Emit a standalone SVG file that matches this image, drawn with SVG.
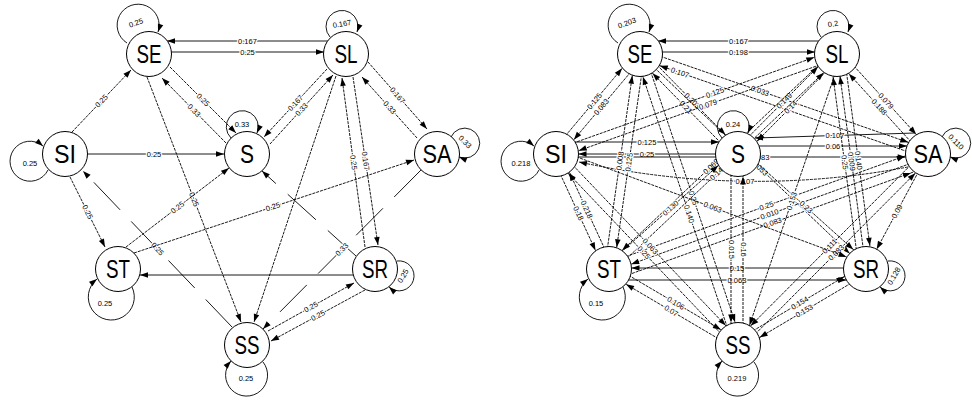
<svg xmlns="http://www.w3.org/2000/svg" width="972" height="401" viewBox="0 0 972 401">
<defs>
<style>
.e{fill:none;stroke:#000;stroke-width:0.9}
.d{stroke-dasharray:3 1}
.ld{stroke-dasharray:38 16}
.a{marker-end:url(#ah)}
.c{marker-end:url(#ahc)}
.lb{font-family:"Liberation Sans",Arial,sans-serif;font-size:7.5px;text-anchor:middle;dominant-baseline:central;fill:#000;stroke:#fff;stroke-width:2.4px;paint-order:stroke;stroke-linejoin:round}
.nd circle{fill:#fff;stroke:#000;stroke-width:1}
.nd text{font-family:"Liberation Sans",Arial,sans-serif;font-size:25px;text-anchor:middle;fill:#000}
</style>
<marker id="ah" markerUnits="userSpaceOnUse" orient="auto" viewBox="-9 -4 10 8" markerWidth="10" markerHeight="8" refX="0" refY="0" overflow="visible"><path d="M0,0 L-8,-2.8 L-8,2.8 z" fill="#000"/></marker>
<marker id="ahc" markerUnits="userSpaceOnUse" orient="auto" viewBox="-32 -4 33 8" markerWidth="33" markerHeight="8" refX="0" refY="0" overflow="visible"><path d="M-22.5,0 L-30.5,-2.8 L-30.5,2.8 z" fill="#000"/></marker>
</defs>
<rect width="972" height="401" fill="#fff"/>
<g id="connectors">
<g id="edges-left">
<path class="e a" d="M328,41 L167,41"/><text class="lb" x="247.5" y="41">0.167</text>
<path class="e a" d="M171,52 L324,52"/><text class="lb" x="247.5" y="52">0.25</text>
<path class="e d a" d="M72,132 L131,70"/><text class="lb" x="101.5" y="101" transform="rotate(-46.4 101.5 101)">0.25</text>
<path class="e d a" d="M170,67 L236,133"/><text class="lb" x="203" y="100" transform="rotate(45 203 100)">0.25</text>
<path class="e d a" d="M226,143 L162,78"/><text class="lb" x="194" y="110.5" transform="rotate(45.4 194 110.5)">0.33</text>
<path class="e a" d="M88,154 L224,154"/><text class="lb" x="154" y="154">0.25</text>
<path class="e d a" d="M147,77 L241,322"/><text class="lb" x="194" y="199.5" transform="rotate(69 194 199.5)">0.25</text>
<path class="e d a" d="M70,177 L105,247"/><text class="lb" x="87.5" y="212" transform="rotate(63.4 87.5 212)">0.25</text>
<path class="e ld a" d="M232,327 L83,171"/><text class="lb" x="157.5" y="249" transform="rotate(46.3 157.5 249)">0.25</text>
<path class="e d a" d="M126,247 L229,168"/><text class="lb" x="177.5" y="207.5" transform="rotate(-37.5 177.5 207.5)">0.25</text>
<path class="e d a" d="M134,253 L414,160"/><text class="lb" x="273" y="206.8" transform="rotate(-18.4 273 206.8)">0.25</text>
<path class="e a" d="M353,275 L140,275"/>
<path class="e ld a" d="M356,256 L262,171"/>
<path class="e d a" d="M327,69 L264,137"/><text class="lb" x="295.5" y="103" transform="rotate(-47.2 295.5 103)">0.167</text>
<path class="e d a" d="M270,144 L333,75"/><text class="lb" x="301.5" y="109.5" transform="rotate(-47.6 301.5 109.5)">0.33</text>
<path class="e d a" d="M368,62 L427,129"/><text class="lb" x="397.5" y="95.5" transform="rotate(48.6 397.5 95.5)">0.167</text>
<path class="e d a" d="M417,138 L362,77"/><text class="lb" x="389.5" y="107.5" transform="rotate(47.9 389.5 107.5)">0.33</text>
<path class="e d a" d="M365,247 L342,78"/><text class="lb" x="353.5" y="162.5" transform="rotate(82.2 353.5 162.5)">0.25</text>
<path class="e d a" d="M353,77 L378,245"/><text class="lb" x="365.5" y="161" transform="rotate(81.5 365.5 161)">0.167</text>
<path class="e d a" d="M336,76 L254,322"/>
<path class="e ld a" d="M421,170 L263,329"/><text class="lb" x="342" y="249.5" transform="rotate(-45.2 342 249.5)">0.33</text>
<path class="e d a" d="M268,331 L354,283"/><text class="lb" x="311" y="307" transform="rotate(-29.2 311 307)">0.25</text>
<path class="e d a" d="M365,290 L271,341"/><text class="lb" x="318" y="315.5" transform="rotate(-28.5 318 315.5)">0.25</text>
<path class="e a" d="M127,43 A21,21 0 1 1 158,32"/><text class="lb" x="136" y="23" transform="rotate(-20 136 23)">0.25</text>
<path class="e a" d="M330,37 A16,16 0 1 1 357,32"/><text class="lb" x="342" y="24" transform="rotate(-10 342 24)">0.167</text>
<path class="e a" d="M48,170 A20,20 0 1 1 43,146"/><text class="lb" x="30" y="163">0.25</text>
<path class="e a" d="M231,138 A16,16 0 1 1 257,133"/><text class="lb" x="242" y="124">0.33</text>
<path class="e a" d="M451,137 A15,15 0 1 1 459,157"/><text class="lb" x="465" y="142" transform="rotate(45 465 142)">0.33</text>
<path class="e a" d="M132,287 A23,23 0 1 1 97,279"/><text class="lb" x="105" y="303">0.25</text>
<path class="e a" d="M397,261 A15,15 0 1 1 389,287"/><text class="lb" x="403" y="276" transform="rotate(-60 403 276)">0.25</text>
<path class="e a" d="M263,362 A21,21 0 1 1 231,361"/><text class="lb" x="246" y="378">0.25</text>
</g>
<g id="edges-right">
<path class="e a" d="M819,41 L658,41"/><text class="lb" x="738.5" y="41">0.167</text>
<path class="e a" d="M662,52 L815,52"/><text class="lb" x="738.5" y="52">0.198</text>
<path class="e a" d="M575,142 L719,142"/><text class="lb" x="647" y="142">0.125</text>
<path class="e a" d="M715.5,154 L578.5,154"/><text class="lb" x="647" y="154">0.25</text>
<path class="e a" d="M578.3,157 L905.7,157"/><text class="lb" x="760" y="157">0.083</text>
<path class="e a" d="M915,133 L755,138"/><text class="lb" x="835" y="135.5">0.107</text>
<path class="e a" d="M759,146 L907,146"/><text class="lb" x="833" y="146">0.06</text>
<path class="e a" d="M843.5,268 L631.5,268"/><text class="lb" x="737" y="268">0.15</text>
<path class="e a" d="M628.6,280 L846.4,280"/><text class="lb" x="737" y="280">0.063</text>
<path class="e d a" d="M908,167 Q745,198 579,162"/><text class="lb" x="745" y="181">0.107</text>
<path class="e d c" d="M552.6,151.1 L636.6,51.1"/><text class="lb" x="594.6" y="101.1" transform="rotate(-50 594.6 101.1)">0.125</text>
<path class="e d c" d="M643.4,56.9 L559.4,156.9"/><text class="lb" x="601.4" y="106.9" transform="rotate(-50 601.4 106.9)">0.083</text>
<path class="e d c" d="M734.8,157.2 L636.8,57.2"/><text class="lb" x="685.8" y="107.2" transform="rotate(45.6 685.8 107.2)">0.21</text>
<path class="e d c" d="M643.2,50.9 L741.2,150.9"/><text class="lb" x="692.2" y="100.9" transform="rotate(45.6 692.2 100.9)">0.203</text>
<path class="e d c" d="M641.5,49.75 L929.5,149.75"/><text class="lb" x="760" y="91" transform="rotate(19.1 760 91)">0.033</text>
<path class="e d c" d="M926.5,158.25 L638.5,58.25"/><text class="lb" x="680" y="72.6" transform="rotate(19.1 680 72.6)">0.107</text>
<path class="e d c" d="M644.5,54.6 L613.5,269.6"/><text class="lb" x="629" y="162.1" transform="rotate(-81.8 629 162.1)">0.125</text>
<path class="e d c" d="M604.5,268.4 L635.5,53.4"/><text class="lb" x="620" y="160.9" transform="rotate(-81.8 620 160.9)">0.008</text>
<path class="e d c" d="M644.3,52.6 L742.3,343.6"/><text class="lb" x="693.3" y="198.1" transform="rotate(71.4 693.3 198.1)">0.25</text>
<path class="e d c" d="M733.7,346.4 L635.7,55.4"/><text class="lb" x="689" y="214" transform="rotate(71.4 689 214)">0.140</text>
<path class="e d c" d="M640,54 L866,269"/><text class="lb" x="760" y="168" transform="rotate(43.6 760 168)">0.053</text>
<path class="e d c" d="M554.5,149.8 L835.5,49.8"/><text class="lb" x="715" y="92.7" transform="rotate(-19.6 715 92.7)">0.125</text>
<path class="e d c" d="M838.5,58.2 L557.5,158.2"/><text class="lb" x="708" y="104.6" transform="rotate(-19.6 708 104.6)">0.079</text>
<path class="e d c" d="M734.8,150.8 L833.8,50.8"/><text class="lb" x="784.3" y="100.8" transform="rotate(-45.3 784.3 100.8)">0.149</text>
<path class="e d c" d="M840.2,57.2 L741.2,157.2"/><text class="lb" x="790.7" y="107.2" transform="rotate(-45.3 790.7 107.2)">0.14</text>
<path class="e d c" d="M840.3,51 L931.3,151"/><text class="lb" x="885.8" y="101" transform="rotate(47.7 885.8 101)">0.079</text>
<path class="e d c" d="M924.7,157 L833.7,57"/><text class="lb" x="879.2" y="107" transform="rotate(47.7 879.2 107)">0.188</text>
<path class="e d c" d="M833.9,50.7 L605.9,265.7"/><text class="lb" x="711" y="166.6" transform="rotate(-43.3 711 166.6)">0.069</text>
<path class="e d c" d="M612.1,272.3 L840.1,57.3"/><text class="lb" x="718" y="172.4" transform="rotate(-43.3 718 172.4)">0.145</text>
<path class="e d c" d="M859.1,269.9 L830.1,54.9"/><text class="lb" x="844.6" y="162.4" transform="rotate(82.3 844.6 162.4)">0.25</text>
<path class="e d c" d="M866,269 L837,54"/><text class="lb" x="851.5" y="161.5" transform="rotate(82.3 851.5 161.5)">0.009</text>
<path class="e d c" d="M843.9,53.1 L872.9,268.1"/><text class="lb" x="858.4" y="160.6" transform="rotate(82.3 858.4 160.6)">0.140</text>
<path class="e d c" d="M551.9,155.9 L604.9,270.9"/><text class="lb" x="578.4" y="213.4" transform="rotate(65.3 578.4 213.4)">0.18</text>
<path class="e d c" d="M613.1,267.1 L560.1,152.1"/><text class="lb" x="586.6" y="209.6" transform="rotate(65.3 586.6 209.6)">0.218</text>
<path class="e d c" d="M606,265.6 L735,150.6"/><text class="lb" x="670.5" y="208.1" transform="rotate(-41.7 670.5 208.1)">0.130</text>
<path class="e d c" d="M607,263.4 L926,148.4"/><text class="lb" x="766.5" y="205.9" transform="rotate(-19.8 766.5 205.9)">0.25</text>
<path class="e d c" d="M929,156.8 L610,271.8"/><text class="lb" x="769.5" y="214.3" transform="rotate(-19.8 769.5 214.3)">0.010</text>
<path class="e d c" d="M613.1,280.3 L932.1,165.3"/><text class="lb" x="772.6" y="222.8" transform="rotate(-19.8 772.6 222.8)">0.083</text>
<path class="e d c" d="M611.3,265.1 L740.3,341.1"/><text class="lb" x="675.8" y="303.1" transform="rotate(30.5 675.8 303.1)">0.106</text>
<path class="e d c" d="M735.7,348.9 L606.7,272.9"/><text class="lb" x="671.2" y="310.9" transform="rotate(30.5 671.2 310.9)">0.07</text>
<path class="e d c" d="M735.7,341.1 L863.7,265.1"/><text class="lb" x="799.7" y="303.1" transform="rotate(-30.7 799.7 303.1)">0.154</text>
<path class="e d c" d="M868.3,272.9 L740.3,348.9"/><text class="lb" x="804.3" y="310.9" transform="rotate(-30.7 804.3 310.9)">0.153</text>
<path class="e d c" d="M928,154 L866,269"/><text class="lb" x="897" y="211.5" transform="rotate(-61.7 897 211.5)">0.09</text>
<path class="e d c" d="M924.8,150.8 L734.8,341.8"/><text class="lb" x="829.8" y="246.3" transform="rotate(-45.2 829.8 246.3)">0.111</text>
<path class="e d c" d="M741.2,348.2 L931.2,157.2"/><text class="lb" x="836.2" y="252.7" transform="rotate(-45.2 836.2 252.7)">0.083</text>
<path class="e d c" d="M731,154 L731,345"/><text class="lb" x="731" y="249.5" transform="rotate(90 731 249.5)">0.015</text>
<path class="e d c" d="M743,345 L743,154"/><text class="lb" x="743" y="249.5" transform="rotate(90 743 249.5)">0.16</text>
<path class="e d c" d="M742,149.5 L870,264.5"/><text class="lb" x="806" y="207" transform="rotate(41.9 806 207)">0.23</text>
<path class="e d c" d="M841.3,55.5 L742.3,346.5"/><text class="lb" x="791.8" y="201" transform="rotate(-71.2 791.8 201)">0.153</text>
<path class="e d c" d="M559.3,150.9 L741.3,341.9"/><text class="lb" x="650.3" y="246.4" transform="rotate(46.4 650.3 246.4)">0.063</text>
<path class="e d c" d="M734.7,348.1 L552.7,157.1"/><text class="lb" x="643.7" y="252.6" transform="rotate(46.4 643.7 252.6)">0.25</text>
<path class="e d c" d="M557.6,149.8 L867.6,264.8"/><text class="lb" x="712.6" y="207.3" transform="rotate(20.4 712.6 207.3)">0.063</text>
<path class="e a" d="M618,43 A21,21 0 1 1 649,32"/><text class="lb" x="627" y="23" transform="rotate(-20 627 23)">0.203</text>
<path class="e a" d="M821,37 A16,16 0 1 1 848,32"/><text class="lb" x="833" y="24" transform="rotate(-10 833 24)">0.2</text>
<path class="e a" d="M539,170 A20,20 0 1 1 534,146"/><text class="lb" x="521" y="163">0.218</text>
<path class="e a" d="M722,138 A16,16 0 1 1 748,133"/><text class="lb" x="733" y="124">0.24</text>
<path class="e a" d="M942,137 A15,15 0 1 1 950,157"/><text class="lb" x="956" y="142" transform="rotate(45 956 142)">0.110</text>
<path class="e a" d="M623,287 A23,23 0 1 1 588,279"/><text class="lb" x="596" y="303">0.15</text>
<path class="e a" d="M888,261 A15,15 0 1 1 880,287"/><text class="lb" x="894" y="276" transform="rotate(-60 894 276)">0.128</text>
<path class="e a" d="M754,362 A21,21 0 1 1 722,361"/><text class="lb" x="737" y="378">0.219</text>
</g>
</g>
<g id="L-SE" class="nd"><circle cx="149" cy="54" r="22.5"/><text x="149" y="63" textLength="25" lengthAdjust="spacingAndGlyphs">SE</text></g>
<g id="L-SL" class="nd"><circle cx="346" cy="54" r="22.5"/><text x="346" y="63" textLength="23" lengthAdjust="spacingAndGlyphs">SL</text></g>
<g id="L-SI" class="nd"><circle cx="65" cy="154" r="22.5"/><text x="65" y="163" textLength="22" lengthAdjust="spacingAndGlyphs">SI</text></g>
<g id="L-S" class="nd"><circle cx="247" cy="154" r="22.5"/><text x="247" y="163" textLength="14" lengthAdjust="spacingAndGlyphs">S</text></g>
<g id="L-SA" class="nd"><circle cx="437" cy="154" r="22.5"/><text x="437" y="163" textLength="29" lengthAdjust="spacingAndGlyphs">SA</text></g>
<g id="L-ST" class="nd"><circle cx="118" cy="269" r="22.5"/><text x="118" y="278" textLength="24" lengthAdjust="spacingAndGlyphs">ST</text></g>
<g id="L-SR" class="nd"><circle cx="375" cy="269" r="22.5"/><text x="375" y="278" textLength="26" lengthAdjust="spacingAndGlyphs">SR</text></g>
<g id="L-SS" class="nd"><circle cx="247" cy="345" r="22.5"/><text x="247" y="354" textLength="25" lengthAdjust="spacingAndGlyphs">SS</text></g>
<g id="R-SE" class="nd"><circle cx="640" cy="54" r="22.5"/><text x="640" y="63" textLength="25" lengthAdjust="spacingAndGlyphs">SE</text></g>
<g id="R-SL" class="nd"><circle cx="837" cy="54" r="22.5"/><text x="837" y="63" textLength="23" lengthAdjust="spacingAndGlyphs">SL</text></g>
<g id="R-SI" class="nd"><circle cx="556" cy="154" r="22.5"/><text x="556" y="163" textLength="22" lengthAdjust="spacingAndGlyphs">SI</text></g>
<g id="R-S" class="nd"><circle cx="738" cy="154" r="22.5"/><text x="738" y="163" textLength="14" lengthAdjust="spacingAndGlyphs">S</text></g>
<g id="R-SA" class="nd"><circle cx="928" cy="154" r="22.5"/><text x="928" y="163" textLength="29" lengthAdjust="spacingAndGlyphs">SA</text></g>
<g id="R-ST" class="nd"><circle cx="609" cy="269" r="22.5"/><text x="609" y="278" textLength="24" lengthAdjust="spacingAndGlyphs">ST</text></g>
<g id="R-SR" class="nd"><circle cx="866" cy="269" r="22.5"/><text x="866" y="278" textLength="26" lengthAdjust="spacingAndGlyphs">SR</text></g>
<g id="R-SS" class="nd"><circle cx="738" cy="345" r="22.5"/><text x="738" y="354" textLength="25" lengthAdjust="spacingAndGlyphs">SS</text></g>
</svg>
